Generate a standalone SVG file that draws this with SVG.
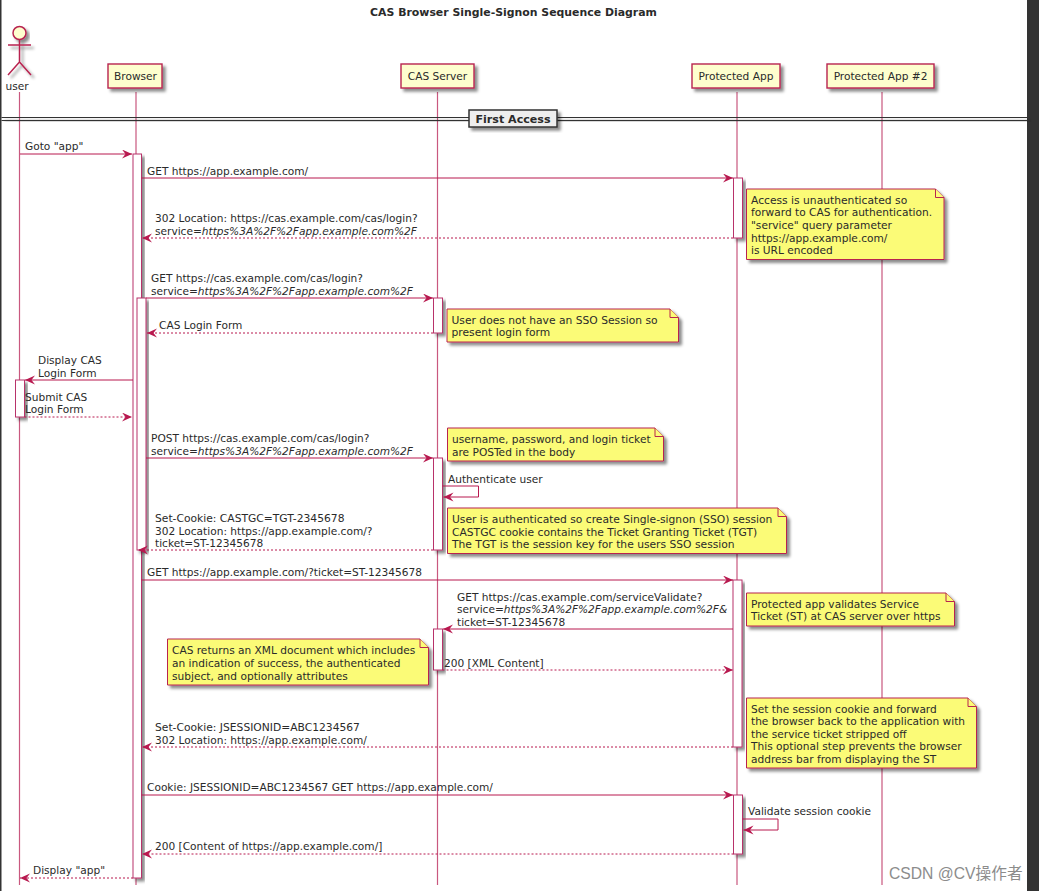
<svg xmlns="http://www.w3.org/2000/svg" width="1039" height="891" viewBox="0 0 1039 891">
<style>
text{font-family:"DejaVu Sans",sans-serif;font-size:10.6px;fill:#2a2a2a}
.wide text,text.wide{font-size:10.72px}
.life{stroke:#c9587f;stroke-width:1.2;fill:none}
.msg{stroke:#b8194f;stroke-width:1;fill:none;marker-end:url(#ah)}
.ret{stroke:#b8194f;stroke-width:1;fill:none;stroke-dasharray:2 2;marker-end:url(#ah)}
.part{fill:#fefece;stroke:#b8244f;stroke-width:1.4;filter:url(#sh)}
.act{fill:#fff;stroke:#b8336a;stroke-width:1;filter:url(#sh)}
.note{fill:#fbfb77;stroke:#b8244f;stroke-width:1;filter:url(#sh)}
.fold{fill:#fbfb77;stroke:#b8244f;stroke-width:1}
</style>
<defs>
<filter id="sh" x="-20%" y="-20%" width="150%" height="150%"><feDropShadow dx="3" dy="3" stdDeviation="1.5" flood-color="#000" flood-opacity="0.45"/></filter>
<marker id="ah" markerUnits="userSpaceOnUse" markerWidth="12" markerHeight="10" refX="10" refY="4.500" orient="auto"><path d="M0 0L10 4.500L0 9L3.500 4.500Z" fill="#b8194f"/></marker>
</defs>
<rect width="1039" height="891" fill="#fff"/>
<rect x="0" y="0" width="1.5" height="891" fill="#333"/>
<rect x="1027" y="0" width="12" height="891" fill="#333"/>
<text x="513.5" y="16" text-anchor="middle" style="font-weight:bold;font-size:10.9px">CAS Browser Single-Signon Sequence Diagram</text>

<g id="lifelines">
<path class="life" d="M19.5 92V885M136 92V885M437.5 92V885M737 92V885M882 92V885"/>
</g>

<g id="divider">
<path d="M1.5 117.5H1027M1.5 120.5H1027" stroke="#333" stroke-width="1.1" fill="none" filter="url(#sh)"/>
<rect x="469" y="110" width="88" height="17" fill="#eee" stroke="#333" stroke-width="1.5" filter="url(#sh)"/>
<text x="513" y="122.500" text-anchor="middle" style="font-weight:bold;font-size:11.1px">First Access</text>
</g>

<g id="user">
<circle cx="19.500" cy="33" r="6.500" fill="#fefece" stroke="#b8244f" stroke-width="1.500" filter="url(#sh)"/>
<path d="M19.500 39.500V62M8 45H31M19.500 62L8 75M19.500 62L31 75" stroke="#b8244f" stroke-width="1.500" fill="none" filter="url(#sh)"/>
<text x="17" y="90" text-anchor="middle">user</text>
</g>
<g id="browser"><rect class="part" x="108" y="64" width="54" height="24"/><text x="135.500" y="80" text-anchor="middle">Browser</text></g>
<g id="cas-server"><rect class="part" x="401" y="64" width="73" height="24"/><text x="437.500" y="80" text-anchor="middle">CAS Server</text></g>
<g id="protected-app"><rect class="part" x="692" y="64" width="88" height="24"/><text x="736" y="80" text-anchor="middle">Protected App</text></g>
<g id="protected-app-2"><rect class="part" x="827" y="64" width="107" height="24"/><text x="880.500" y="80" text-anchor="middle">Protected App #2</text></g>

<g id="activations">
<rect class="act" x="133" y="154" width="8.500" height="724"/>
<rect class="act" x="137" y="298" width="9" height="252"/>
<rect class="act" x="733.500" y="178" width="9" height="60"/>
<rect class="act" x="433.500" y="298" width="9" height="35"/>
<rect class="act" x="15.500" y="380" width="9" height="37"/>
<rect class="act" x="433.500" y="458" width="9" height="92"/>
<rect class="act" x="733" y="580" width="9" height="167"/>
<rect class="act" x="433.500" y="629" width="9" height="41"/>
<rect class="act" x="733.500" y="795" width="9" height="59"/>
</g>

<g id="connectors">
<path class="msg" d="M20 154H132"/>
<path class="msg" d="M141.500 178H733"/>
<path class="ret" d="M733 238H142"/>
<path class="msg" d="M146 298H433"/>
<path class="ret" d="M433 333H147"/>
<path class="msg" d="M133 380H25"/>
<path class="ret" d="M24.500 417H132"/>
<path class="msg" d="M146 458H433"/>
<path class="msg" d="M442.500 486H478.500V497H443.500"/>
<path class="ret" d="M433 550H138"/>
<path class="msg" d="M141.500 580H733"/>
<path class="msg" d="M733 629H443"/>
<path class="ret" d="M442.500 670H733"/>
<path class="ret" d="M733 747H142"/>
<path class="msg" d="M141.500 795H733"/>
<path class="msg" d="M742.500 819H778V830H743.500"/>
<path class="ret" d="M733.500 854H142"/>
<path class="ret" d="M133 878H20"/>
</g>

<g id="labels">
<text x="25" y="150">Goto "app"</text>
<text x="147" y="175">GET https://app.example.com/</text>
<text x="155" y="222">302 Location: https://cas.example.com/cas/login?</text>
<text x="155" y="235">service=<tspan font-style="italic">https%3A%2F%2Fapp.example.com%2F</tspan></text>
<text x="151" y="282">GET https://cas.example.com/cas/login?</text>
<text x="151" y="295">service=<tspan font-style="italic">https%3A%2F%2Fapp.example.com%2F</tspan></text>
<text x="159" y="329">CAS Login Form</text>
<text x="38" y="364">Display CAS</text>
<text x="38" y="377">Login Form</text>
<text x="25" y="401">Submit CAS</text>
<text x="25" y="413">Login Form</text>
<text x="151" y="442">POST https://cas.example.com/cas/login?</text>
<text x="151" y="455">service=<tspan font-style="italic">https%3A%2F%2Fapp.example.com%2F</tspan></text>
<text x="448" y="483">Authenticate user</text>
<text class="wide" x="155" y="522">Set-Cookie: CASTGC=TGT-2345678</text>
<text x="155" y="535">302 Location: https://app.example.com/?</text>
<text x="155" y="547">ticket=ST-12345678</text>
<text x="147" y="576">GET https://app.example.com/?ticket=ST-12345678</text>
<text x="457" y="601">GET https://cas.example.com/serviceValidate?</text>
<text x="457" y="613">service=<tspan font-style="italic">https%3A%2F%2Fapp.example.com%2F&amp;</tspan></text>
<text x="457" y="626">ticket=ST-12345678</text>
<text x="444" y="667">200 [XML Content]</text>
<text class="wide" x="155" y="731">Set-Cookie: JSESSIONID=ABC1234567</text>
<text x="155" y="744">302 Location: https://app.example.com/</text>
<text x="147" y="791">Cookie: JSESSIONID=ABC1234567 GET https://app.example.com/</text>
<text x="748" y="815">Validate session cookie</text>
<text x="155" y="850">200 [Content of https://app.example.com/]</text>
<text x="33" y="874">Display "app"</text>
</g>

<g id="note-unauthenticated">
<path class="note" d="M746.500 189H935.500L944 197.500V259.500H746.500Z"/><path class="fold" d="M935.500 189V197.500H944"/>
<text class="wide" x="751" y="204">Access is unauthenticated so</text>
<text x="751" y="216">forward to CAS for authentication.</text>
<text x="751" y="229">"service" query parameter</text>
<text x="751" y="242">https://app.example.com/</text>
<text x="751" y="254">is URL encoded</text>
</g>
<g id="note-no-session" class="wide">
<path class="note" d="M447 309H670L678.500 317.500V342H447Z"/><path class="fold" d="M670 309V317.500H678.500"/>
<text x="451.500" y="324">User does not have an SSO Session so</text>
<text x="451.500" y="336">present login form</text>
</g>
<g id="note-post">
<path class="note" d="M447.500 428H655L663.500 436.500V461H447.500Z"/><path class="fold" d="M655 428V436.500H663.500"/>
<text x="452" y="443">username, password, and login ticket</text>
<text x="452" y="456">are POSTed in the body</text>
</g>
<g id="note-authenticated" class="wide">
<path class="note" d="M447.500 508H778L786.500 516.500V553.500H447.500Z"/><path class="fold" d="M778 508V516.500H786.500"/>
<text x="452" y="523">User is authenticated so create Single-signon (SSO) session</text>
<text x="452" y="536">CASTGC cookie contains the Ticket Granting Ticket (TGT)</text>
<text x="452" y="548">The TGT is the session key for the users SSO session</text>
</g>
<g id="note-validate">
<path class="note" d="M746.500 593H946L954.500 601.500V626H746.500Z"/><path class="fold" d="M946 593V601.500H954.500"/>
<text x="751" y="608">Protected app validates Service</text>
<text x="751" y="620">Ticket (ST) at CAS server over https</text>
</g>
<g id="note-xml">
<path class="note" d="M167.500 639H420L428.500 647.500V685H167.500Z"/><path class="fold" d="M420 639V647.500H428.500"/>
<text x="172" y="654">CAS returns an XML document which includes</text>
<text x="172" y="667">an indication of success, the authenticated</text>
<text x="172" y="680">subject, and optionally attributes</text>
</g>
<g id="note-session-cookie">
<path class="note" d="M746.500 698H968L976.500 706.500V768H746.500Z"/><path class="fold" d="M968 698V706.500H976.500"/>
<text x="751" y="713">Set the session cookie and forward</text>
<text x="751" y="725">the browser back to the application with</text>
<text x="751" y="738">the service ticket stripped off</text>
<text x="751" y="750">This optional step prevents the browser</text>
<text x="751" y="763">address bar from displaying the ST</text>
</g>
<text x="889" y="879" style="font-family:'Liberation Sans','Noto Sans CJK SC',sans-serif;font-size:15.7px;fill:#8c8c8c">CSDN @CV操作者</text>
</svg>
